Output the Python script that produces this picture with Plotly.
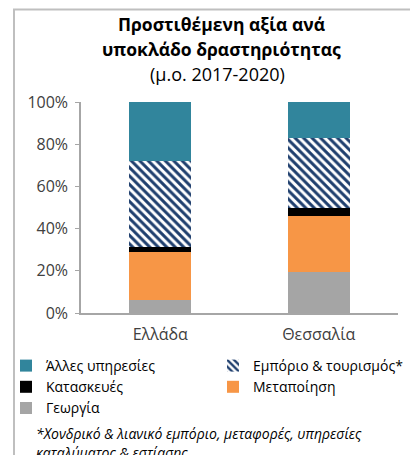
import plotly.graph_objects as go

categories = ["Ελλάδα", "Θεσσαλία"]
georgia = [6.2, 19.6]
metapoiisi = [22.9, 26.4]
kataskeves = [2.3, 3.6]
emporio = [40.8, 33.5]
alles = [27.8, 16.9]
tick_vals = [0, 20, 40, 60, 80, 100]
tick_text = ["0%", "20%", "40%", "60%", "80%", "100%"]

FONT = "Open Sans"
TXT = "#404040"

# the page adds an 8px body margin, so the figure is 8px smaller than the window
OFF = 8
W, H = 418 - OFF, 455 - OFF
L, R, T, B = 81 - OFF, 20, 102 - OFF, 142
pw, ph = W - L - R, H - T - B

def fx(x):  # window pixel -> paper x
    return (x - OFF - L) / pw

def fy(y):  # window pixel -> paper y
    return (H - B - (y - OFF)) / ph

fig = go.Figure()
fig.add_bar(x=categories, y=georgia, name="Γεωργία", legend="legend",
            marker=dict(color="#A5A5A5", line_width=0))
fig.add_bar(x=categories, y=metapoiisi, name="Μεταποίηση", legend="legend2",
            marker=dict(color="#F79646", line_width=0))
fig.add_bar(x=categories, y=kataskeves, name="Κατασκευές", legend="legend",
            marker=dict(color="#000000", line_width=0))
fig.add_bar(x=categories, y=emporio, name="Εμπόριο & τουρισμός*", legend="legend2",
            marker=dict(color="white", line_width=0,
                        pattern=dict(shape="\\", fgcolor="#1F3F6E", bgcolor="white",
                                     size=6, solidity=0.5, fillmode="replace")))
fig.add_bar(x=categories, y=alles, name="Άλλες υπηρεσίες", legend="legend",
            marker=dict(color="#31859C", line_width=0))

leg_common = dict(orientation="v", traceorder="reversed", xanchor="left", yanchor="top",
                  font=dict(size=14, color="#000000", family=FONT), itemwidth=30,
                  tracegroupgap=0, bgcolor="rgba(0,0,0,0)", borderwidth=0)

fig.update_layout(
    width=W, height=H,
    margin=dict(l=L, r=R, t=T, b=B, pad=0, autoexpand=False),
    barmode="stack", bargap=0.61,
    plot_bgcolor="white", paper_bgcolor="white",
    font=dict(family=FONT, color=TXT, size=16),
    showlegend=True,
    legend=dict(x=fx(6), y=fy(350), **leg_common),
    legend2=dict(x=fx(213), y=fy(350), **leg_common),
    xaxis=dict(showline=True, linecolor="#A6A6A6", linewidth=1.5, ticks="",
               tickfont=dict(size=16, color=TXT), ticklabelstandoff=6, fixedrange=True),
    yaxis=dict(range=[0, 100], tickvals=tick_vals, ticktext=tick_text, showgrid=False,
               showline=True, linecolor="#A6A6A6", linewidth=1.5, ticks="outside",
               ticklen=4, tickcolor="#A6A6A6", tickfont=dict(size=16, color=TXT),
               ticklabelstandoff=4, zeroline=False, fixedrange=True),
    shapes=[dict(type="rect", xref="paper", yref="paper",
                 x0=fx(14), x1=fx(440), y0=fy(480), y1=fy(9.5),
                 line=dict(color="#BFBFBF", width=2), fillcolor="rgba(0,0,0,0)", layer="below")],
    annotations=[
        dict(text="<b>Προστιθέμενη αξία ανά</b>", xref="paper", yref="paper",
             x=fx(221), y=fy(24), xanchor="center", yanchor="middle", showarrow=False,
             font=dict(size=17.5, color="#000000", family=FONT)),
        dict(text="<b>υποκλάδο δραστηριότητας</b>", xref="paper", yref="paper",
             x=fx(221), y=fy(49), xanchor="center", yanchor="middle", showarrow=False,
             font=dict(size=17.5, color="#000000", family=FONT)),
        dict(text="(μ.ο. 2017-2020)", xref="paper", yref="paper",
             x=fx(217), y=fy(74), xanchor="center", yanchor="middle", showarrow=False,
             font=dict(size=18, color="#000000", family=FONT)),
        dict(text="<i>*Χονδρικό & λιανικό εμπόριο, μεταφορές, υπηρεσίες</i>", xref="paper", yref="paper",
             x=fx(34), y=fy(433), xanchor="left", yanchor="middle", showarrow=False,
             font=dict(size=14, color="#000000", family=FONT)),
        dict(text="<i>καταλύματος & εστίασης</i>", xref="paper", yref="paper",
             x=fx(34), y=fy(452), xanchor="left", yanchor="middle", showarrow=False,
             font=dict(size=14, color="#000000", family=FONT)),
    ],
)

fig.write_html("out.html", config={"displayModeBar": False})
